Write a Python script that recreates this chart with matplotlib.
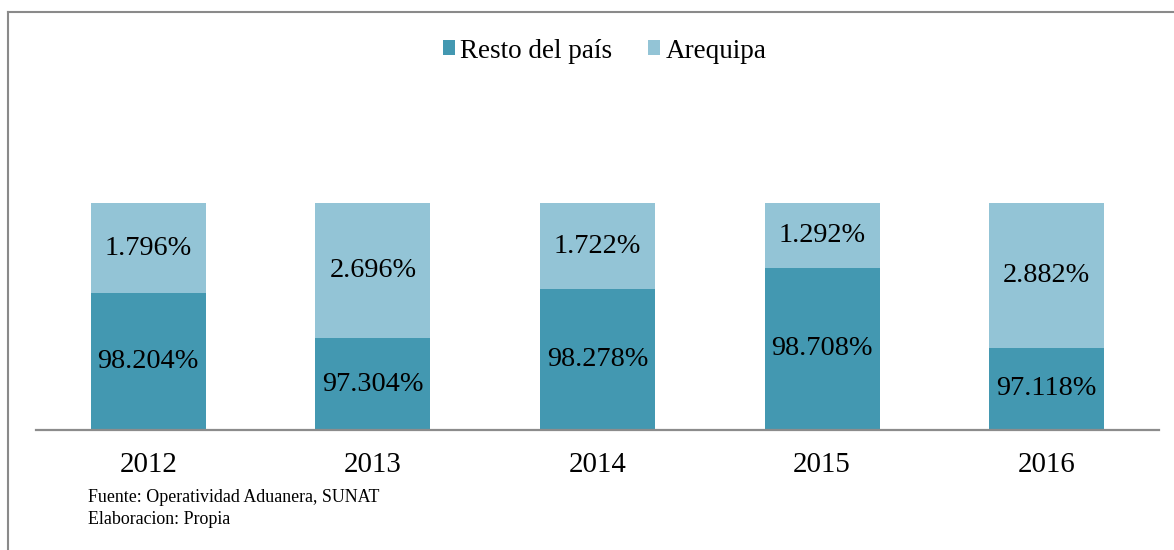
import matplotlib
matplotlib.use("Agg")
import matplotlib.pyplot as plt
from matplotlib.patches import Patch
from matplotlib.lines import Line2D

years = ["2012", "2013", "2014", "2015", "2016"]
resto = [98.204, 97.304, 98.278, 98.708, 97.118]
arequipa = [1.796, 2.696, 1.722, 1.292, 2.882]
series_names = ["Resto del país", "Arequipa"]
footnotes = ["Fuente: Operatividad Aduanera, SUNAT", "Elaboracion: Propia"]

c_resto = "#4398B1"
c_areq = "#93C4D6"
ymin = 95.48

plt.rcParams['font.family'] = ['Liberation Serif', 'DejaVu Serif']

W, H = 1174, 550
fig = plt.figure(figsize=(W / 100, H / 100), dpi=100)
ax = fig.add_axes([36 / W, 1 - 430 / H, (1159 - 36) / W, (430 - 203) / H])

x = list(range(len(years)))
bw = 0.512
ax.bar(x, [r - ymin for r in resto], bottom=ymin, width=bw, color=c_resto, edgecolor='none')
ax.bar(x, arequipa, bottom=resto, width=bw, color=c_areq, edgecolor='none')

for i in x:
    ax.text(i, (ymin + resto[i]) / 2, f"{resto[i]:.3f}%", ha='center', va='center',
            fontsize=20.3, color='black')
    ax.text(i, resto[i] + arequipa[i] / 2, f"{arequipa[i]:.3f}%", ha='center', va='center',
            fontsize=20.3, color='black')

ax.set_xlim(-0.5, len(years) - 0.5)
ax.set_ylim(ymin, 100)
for s in ['left', 'right', 'top']:
    ax.spines[s].set_visible(False)
ax.spines['bottom'].set_color('#8c8c8c')
ax.spines['bottom'].set_linewidth(1.6)
ax.set_yticks([])
ax.set_xticks(x)
ax.set_xticklabels(years, fontsize=20.8)
ax.tick_params(axis='x', length=0, pad=16)

handles = [Patch(facecolor=c_resto, edgecolor='none'), Patch(facecolor=c_areq, edgecolor='none')]
fig.legend(handles, series_names, loc='center', bbox_to_anchor=(604.5 / W, 1 - 51 / H),
           ncol=2, frameon=False, fontsize=19.5, handlelength=0.46, handleheight=0.46,
           handletextpad=0.2, columnspacing=1.3)

fig.text(88 / W, 1 - 497 / H, footnotes[0], fontsize=12.9, va='center', ha='left')
fig.text(88 / W, 1 - 520 / H, footnotes[1], fontsize=12.9, va='center', ha='left')

# outer frame (left and top lines)
fig.add_artist(Line2D([8 / W, 8 / W], [0, 1 - 12 / H], transform=fig.transFigure,
                      color='#8a8a8a', linewidth=1.5))
fig.add_artist(Line2D([8 / W, 1], [1 - 12 / H, 1 - 12 / H], transform=fig.transFigure,
                      color='#8a8a8a', linewidth=1.5))

fig.savefig("out.png", dpi=100)
